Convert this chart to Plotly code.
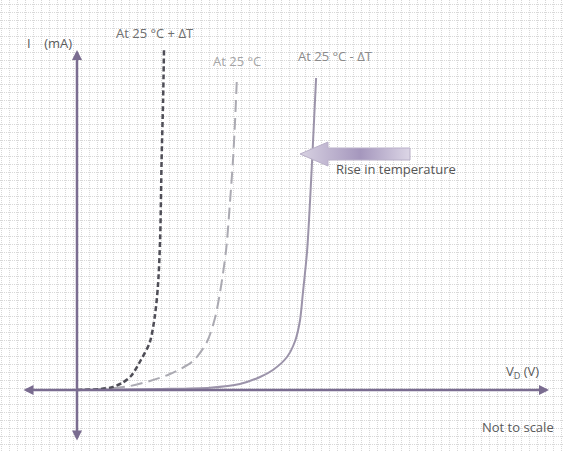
"""
Diode forward characteristic vs. temperature (schematic, not to scale)
"""

import plotly.graph_objects as go

# forward voltage (V) and current (mA) for each temperature curve
v_cold = [0, 0.143, 0.277, 0.443, 0.543, 0.61, 0.653, 0.7, 0.727, 0.743, 0.753, 0.767, 0.777, 0.787, 0.797]
i_cold = [0, 0.05, 0.1, 0.23, 0.6, 1.3, 2.0, 3.3, 4.9, 6.9, 9.7, 13.9, 19.0, 25.0, 31.2]

v_room = [0, 0.11, 0.177, 0.243, 0.31, 0.387, 0.433, 0.46, 0.477, 0.497, 0.51, 0.52, 0.527, 0.533]
i_room = [0, 0.15, 0.4, 0.9, 1.6, 2.9, 4.8, 7.2, 9.8, 14.0, 18.8, 23.0, 27.0, 31.2]

v_hot = [0, 0.077, 0.12, 0.15, 0.18, 0.213, 0.243, 0.26, 0.27, 0.277, 0.282, 0.287, 0.29]
i_hot = [0, 0.1, 0.3, 0.7, 1.4, 3.0, 4.8, 7.5, 10.5, 15.0, 23.0, 29.0, 34.0]

curve_labels = ["At 25 °C + ΔT", "At 25 °C", "At 25 °C - ΔT"]

W, H = 563, 452
X0, Y0 = 77, 390          # pixel position of the origin
SX, SY = 300, 10          # pixels per volt / per mA


def vx(px):
    # pixel column -> volts
    return (px - X0) / SX


def iy(py):
    # pixel row -> mA
    return (Y0 - py) / SY


AXIS = "#7a6c90"
TEXT = "#5a5a5a"

fig = go.Figure()

fig.add_trace(go.Scatter(
    x=v_cold, y=i_cold, mode="lines",
    line=dict(color="#9c94aa", width=2, shape="spline", smoothing=0.8),
))
fig.add_trace(go.Scatter(
    x=v_room, y=i_room, mode="lines",
    line=dict(color="#abaab2", width=2, dash="12px,6px", shape="spline", smoothing=0.8),
))
fig.add_trace(go.Scatter(
    x=v_hot, y=i_hot, mode="lines",
    line=dict(color="#4f4e57", width=2.5, dash="5px,3px", shape="spline", smoothing=0.8),
))

# block arrow "rise in temperature"
arrow_px = [(300, 154), (328, 142), (328, 148), (410, 148), (410, 160), (328, 160), (328, 166), (300, 154)]
fig.add_trace(go.Scatter(
    x=[vx(p[0]) for p in arrow_px], y=[iy(p[1]) for p in arrow_px],
    mode="lines", fill="toself",
    line=dict(color="#b9b0c8", width=1),
    fillgradient=dict(type="horizontal",
                      colorscale=[[0, "#d8d2e2"], [0.55, "#a597bd"], [1, "#dcd6e6"]]),
))

# axes with arrowheads on both ends
fig.add_annotation(x=vx(549), y=iy(Y0), ax=vx(22), ay=iy(Y0),
                   xref="x", yref="y", axref="x", ayref="y", text="",
                   showarrow=True, arrowhead=2, arrowside="end+start",
                   arrowsize=0.8, arrowwidth=2.5, arrowcolor=AXIS)
fig.add_annotation(x=vx(X0), y=iy(50), ax=vx(X0), ay=iy(442),
                   xref="x", yref="y", axref="x", ayref="y", text="",
                   showarrow=True, arrowhead=2, arrowside="end+start",
                   arrowsize=0.8, arrowwidth=2.5, arrowcolor=AXIS)

labels = [
    ("I&nbsp;&nbsp;&nbsp;&nbsp;(mA)", 49, 43, TEXT),
    (curve_labels[0], 155, 33, "#6e6e6e"),
    (curve_labels[1], 237, 61, "#a6a6a6"),
    (curve_labels[2], 335, 56, "#8a8a8a"),
    ("Rise in temperature", 396, 169, "#555555"),
    ("V<sub>D</sub> (V)", 522, 372, TEXT),
    ("Not to scale", 518, 427, TEXT),
]
for txt, px, py, col in labels:
    fig.add_annotation(x=vx(px), y=iy(py), xref="x", yref="y", text=txt,
                       showarrow=False, font=dict(size=13, color=col))

fig.update_layout(
    width=W, height=H,
    margin=dict(l=0, r=0, t=0, b=0),
    paper_bgcolor="white", plot_bgcolor="white",
    showlegend=False,
    hovermode=False,
    font=dict(family="Open Sans, sans-serif"),
    xaxis=dict(range=[vx(0), vx(W)], showticklabels=False, zeroline=False,
               showline=False, ticks="", tick0=vx(1.7), dtick=8 / SX,
               showgrid=True, gridcolor="#d8d8d8", gridwidth=1, griddash="1px,1px"),
    yaxis=dict(range=[iy(H), iy(0)], showticklabels=False, zeroline=False,
               showline=False, ticks="", tick0=iy(404.7), dtick=8 / SY,
               showgrid=True, gridcolor="#d8d8d8", gridwidth=1, griddash="1px,1px"),
)

# drop the default page margin so the figure sits at the window corner
fig.write_html("out.html", config={"displayModeBar": False},
               post_script="document.body.style.margin='0';")
